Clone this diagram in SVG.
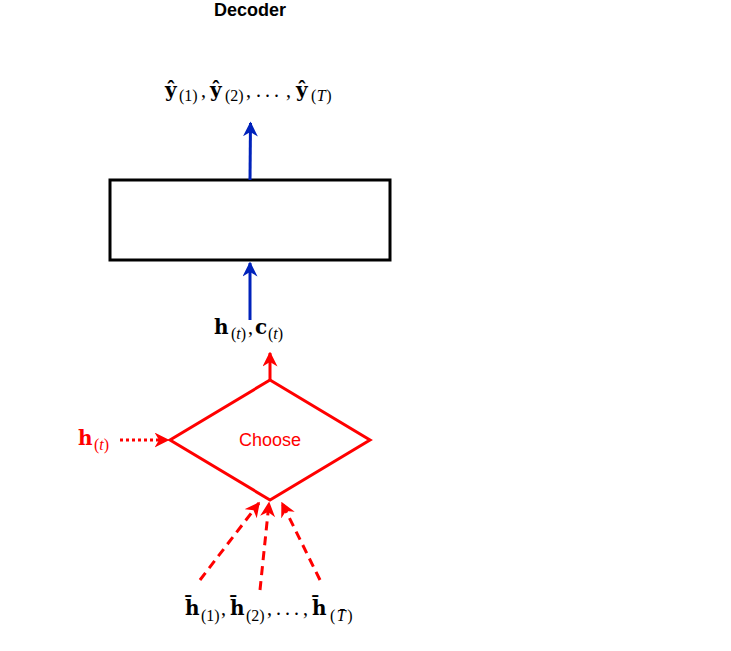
<svg xmlns="http://www.w3.org/2000/svg" width="731" height="651" viewBox="0 0 731 651">
<style>
.title{font-family:"Liberation Sans",Arial,sans-serif;font-weight:bold;font-size:18px;fill:#000}
.m{font-family:"DejaVu Serif","Liberation Serif",serif;font-size:20px;fill:#000}
.b{font-weight:bold}
.s{font-family:"Liberation Serif","Times New Roman",serif;font-size:16px;font-weight:normal}
.p{font-family:"Liberation Serif","Times New Roman",serif;font-size:20px}
.i{font-style:italic}
.red{fill:#ff0000}
.blue{stroke:#0022bb;stroke-width:3;fill:none}
.rl{stroke:#ff0000;stroke-width:3;fill:none}
</style>
<defs>
<marker id="ab" viewBox="0 0 10 10" refX="9" refY="5" markerWidth="5" markerHeight="5" orient="auto" markerUnits="strokeWidth"><path d="M0,0 L10,5 L0,10 L3,5 z" fill="#0022bb"/></marker>
<marker id="ar" viewBox="0 0 10 10" refX="9" refY="5" markerWidth="5" markerHeight="5" orient="auto" markerUnits="strokeWidth"><path d="M0,0 L10,5 L0,10 L3,5 z" fill="#ff0000"/></marker>
</defs>
<text class="title" x="250" y="16" text-anchor="middle">Decoder</text>
<g id="decoder">
<rect x="110" y="180" width="280" height="80" fill="none" stroke="#000" stroke-width="3"/>
</g>
<g id="choose">
<path d="M270,380 L370,440 L270,500 L170,440 Z" fill="none" stroke="#ff0000" stroke-width="3"/>
<text x="270" y="446" text-anchor="middle" font-family="Liberation Sans,Arial,sans-serif" font-size="18" fill="#ff0000">Choose</text>
</g>
<g id="out-label">
<text class="m" y="97"><tspan class="b" x="165">ŷ</tspan><tspan class="s" x="179" y="101">(1)</tspan><tspan class="p" x="201" y="97">,</tspan><tspan class="b" x="210">ŷ</tspan><tspan class="s" x="225" y="101">(2)</tspan><tspan class="p" x="246" y="97">,</tspan><tspan class="p" x="256">.</tspan><tspan class="p" x="265">.</tspan><tspan class="p" x="274">.</tspan><tspan class="p" x="286">,</tspan><tspan class="b" x="296">ŷ</tspan><tspan class="s" x="311" y="101" letter-spacing="0.5">(<tspan class="i">T</tspan>)</tspan></text>
</g>
<g id="hc-label">
<text class="m" y="334"><tspan class="b" x="214">h</tspan><tspan class="s" x="231" y="339">(<tspan class="i">t</tspan>)</tspan><tspan class="p" x="248" y="334">,</tspan><tspan class="b" x="255">c</tspan><tspan class="s" x="268" y="339">(<tspan class="i">t</tspan>)</tspan></text>
</g>
<g id="ht-label">
<text class="m red" y="445"><tspan class="b" x="78">h</tspan><tspan class="s" x="94" y="450">(<tspan class="i">t</tspan>)</tspan></text>
</g>
<g id="hbar-label">
<text class="m" y="615"><tspan class="b" x="185">h̄</tspan><tspan class="s" x="201" y="621">(1)</tspan><tspan class="p" x="221" y="615">,</tspan><tspan class="b" x="230">h̄</tspan><tspan class="s" x="246" y="621">(2)</tspan><tspan class="p" x="267" y="615">,</tspan><tspan class="p" x="276">.</tspan><tspan class="p" x="285">.</tspan><tspan class="p" x="294">.</tspan><tspan class="p" x="303">,</tspan><tspan class="b" x="312">h̄</tspan><tspan class="s" x="330" y="621" letter-spacing="1.5">(<tspan class="i">T̄</tspan>)</tspan></text>
</g>
<g id="connectors">
<line class="blue" x1="250" y1="180" x2="250.5" y2="123" marker-end="url(#ab)"/>
<line class="blue" x1="250" y1="320" x2="250" y2="263" marker-end="url(#ab)"/>
<line class="rl" x1="270" y1="380" x2="270" y2="353" marker-end="url(#ar)"/>
<line class="rl" x1="120" y1="440" x2="168" y2="440" stroke-dasharray="3 3" marker-end="url(#ar)"/>
<line class="rl" x1="200" y1="580" x2="259" y2="503" stroke-dasharray="9 6" marker-end="url(#ar)"/>
<line class="rl" x1="260" y1="590" x2="269" y2="503" stroke-dasharray="9 6" marker-end="url(#ar)"/>
<line class="rl" x1="320" y1="580" x2="282" y2="503" stroke-dasharray="9 6" marker-end="url(#ar)"/>
</g>
</svg>
